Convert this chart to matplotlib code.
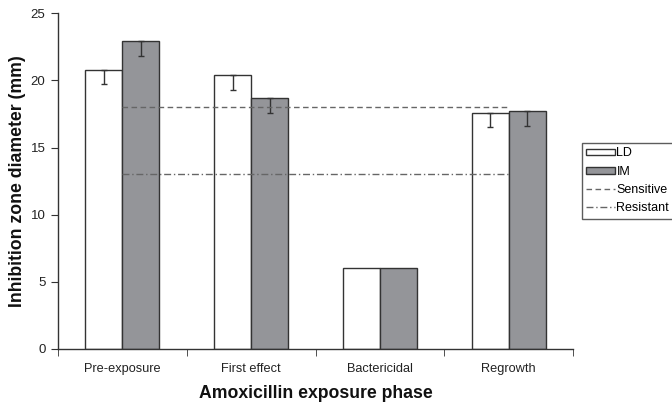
import matplotlib
matplotlib.use("Agg")
import matplotlib.pyplot as plt
import numpy as np

plt.rcParams['font.family'] = ['Liberation Sans', 'DejaVu Sans']

# фазы воздействия амоксициллина
phases = ["Pre-exposure", "First effect", "Bactericidal", "Regrowth"]
ld = [20.8, 20.4, 6.0, 17.6]
im = [22.9, 18.7, 6.0, 17.7]
# ошибки только вниз
ld_err = [1.1, 1.1, 0.0, 1.1]
im_err = [1.1, 1.1, 0.0, 1.1]
sensitive = 18
resistant = 13

fig = plt.figure(figsize=(6.72, 4.03), dpi=100)
ax = fig.add_axes([0.0863, 0.134, 0.8527 - 0.0863, 0.967 - 0.134])

x = np.arange(len(phases))
w = 0.287
edge = "#333333"
ax.bar(x - w / 2, ld, w, color="white", edgecolor=edge, linewidth=1.0, label="LD", zorder=2)
ax.bar(x + w / 2, im, w, color="#949599", edgecolor=edge, linewidth=1.0, label="IM", zorder=2)

# рисуем ошибки только там, где они есть
for xs, vals, errs in [(x - w / 2, ld, ld_err), (x + w / 2, im, im_err)]:
    for xi, v, e in zip(xs, vals, errs):
        if e > 0:
            ax.errorbar(xi, v, yerr=[[e], [0]], fmt="none", ecolor=edge,
                        elinewidth=1.0, capsize=2.5, capthick=1.0, zorder=3)

ax.plot([x[0], x[-1]], [sensitive, sensitive], linestyle=(0, (4, 2.5)), color="#666666",
        linewidth=1.0, label="Sensitive", zorder=4)
ax.plot([x[0], x[-1]], [resistant, resistant], linestyle=(0, (5, 2, 1, 2)), color="#666666",
        linewidth=1.0, label="Resistant", zorder=4)

ax.set_xlim(-0.5, len(phases) - 0.5)
ax.set_ylim(0, 25)
ax.set_yticks([0, 5, 10, 15, 20, 25])
ax.set_xticks(x)
ax.set_xticklabels(phases)
ax.set_xticks(np.arange(len(phases) + 1) - 0.5, minor=True)
ax.tick_params(axis="x", which="major", length=0, pad=10, labelsize=9.2, colors="#222222")
ax.tick_params(axis="x", which="minor", length=5, direction="out", color="#333333")
ax.tick_params(axis="y", length=5, direction="out", labelsize=9.5, pad=4, colors="#333333", labelcolor="#222222")

for s in ["top", "right"]:
    ax.spines[s].set_visible(False)
for s in ["left", "bottom"]:
    ax.spines[s].set_color("#333333")
    ax.spines[s].set_linewidth(1.0)

ax.set_xlabel("Amoxicillin exposure phase", fontsize=12.7, fontweight="bold", labelpad=7, color="#111111")
ax.set_ylabel("Inhibition zone diameter (mm)", fontsize=12.7, fontweight="bold", labelpad=3, color="#111111")

handles, labels = ax.get_legend_handles_labels()
order = [labels.index(n) for n in ["LD", "IM", "Sensitive", "Resistant"]]
leg = ax.legend([handles[i] for i in order], [labels[i] for i in order],
                loc="upper left", bbox_to_anchor=(582 / 672, 1 - 143 / 403),
                bbox_transform=fig.transFigure, fontsize=9, frameon=True, fancybox=False,
                borderpad=0.35, labelspacing=0.5, handlelength=2.3, handleheight=0.45,
                handletextpad=0.1, borderaxespad=0)
leg.get_frame().set_edgecolor("#333333")
leg.get_frame().set_linewidth(1.0)

fig.savefig("out.png", dpi=100)
